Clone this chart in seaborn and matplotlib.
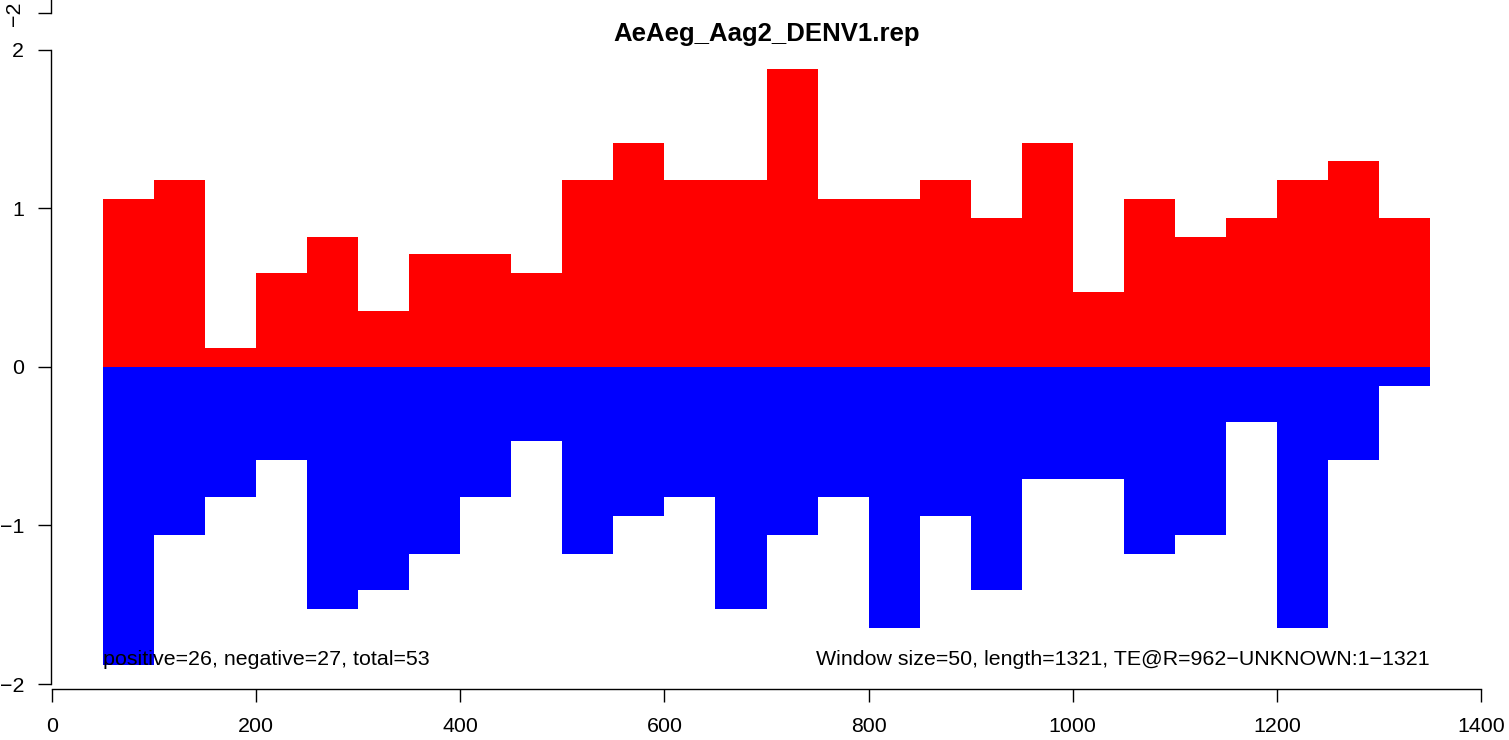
import numpy as np
import pandas as pd
import matplotlib
matplotlib.use("Agg")
import matplotlib.pyplot as plt
import seaborn as sns

# --------------------------
# Data
# --------------------------
window_start = [50, 100, 150, 200, 250, 300, 350, 400, 450, 500, 550, 600, 650,
                700, 750, 800, 850, 900, 950, 1000, 1050, 1100, 1150, 1200, 1250, 1300]
pos_vals = [1.06, 1.18, 0.12, 0.59, 0.82, 0.35, 0.71, 0.71, 0.59, 1.18, 1.41, 1.18, 1.18,
            1.88, 1.06, 1.06, 1.18, 0.94, 1.41, 0.47, 1.06, 0.82, 0.94, 1.18, 1.30, 0.94]
neg_vals = [-1.88, -1.06, -0.82, -0.59, -1.53, -1.41, -1.18, -0.82, -0.47, -1.18, -0.94, -0.82, -1.53,
            -1.06, -0.82, -1.65, -0.94, -1.41, -0.71, -0.71, -1.18, -1.06, -0.35, -1.65, -0.59, -0.12]
win_size = 50
x_ticks = [0, 200, 400, 600, 800, 1000, 1200, 1400]
y_ticks = [-2, -1, 0, 1, 2]
title = "AeAeg_Aag2_DENV1.rep"
left_note = "positive=26, negative=27, total=53"
right_note = "Window size=50, length=1321, TE@R=962\u2212UNKNOWN:1\u22121321"

df = pd.DataFrame({"start": window_start, "pos": pos_vals, "neg": neg_vals})
df["mid"] = df["start"] + win_size / 2
bin_edges = list(range(window_start[0], window_start[-1] + 2 * win_size, win_size))

# --------------------------
# Style
# --------------------------
sns.set_style("white")
plt.rcParams["font.family"] = ["Liberation Sans", "DejaVu Sans"]
plt.rcParams["text.color"] = "black"
plt.rcParams["xtick.color"] = "black"
plt.rcParams["ytick.color"] = "black"
plt.rcParams["axes.labelcolor"] = "black"
plt.rcParams["axes.titlecolor"] = "black"
fs = 15.4

W, H = 1509, 740
fig = plt.figure(figsize=(W / 100, H / 100), dpi=100)
ax = fig.add_axes([52 / W, 1 - 684 / H, (1481 - 52) / W, (684 - 49.5) / H])

sns.histplot(data=df, x="mid", weights="pos", bins=bin_edges, color="#ff0000",
             alpha=1, linewidth=0, edgecolor="none", ax=ax)
sns.histplot(data=df, x="mid", weights="neg", bins=bin_edges, color="#0000ff",
             alpha=1, linewidth=0, edgecolor="none", ax=ax)

ax.set_xlim(0, 1400)
ax.set_ylim(-2, 2)
ax.set_xlabel("")
ax.set_ylabel("")
ax.set_xticks(x_ticks)
ax.set_yticks(y_ticks)
ax.set_xticklabels([str(v) for v in x_ticks])
ax.set_yticklabels([str(v).replace("-", "\u2212") for v in y_ticks],
                   rotation=90, va="center")

for s in ["top", "right"]:
    ax.spines[s].set_visible(False)
ax.spines["left"].set_position(("outward", 1))
ax.spines["bottom"].set_position(("outward", 3.6))
ax.spines["left"].set_bounds(-2, 2)
ax.spines["bottom"].set_bounds(0, 1400)
for s in ["left", "bottom"]:
    ax.spines[s].set_color("black")
    ax.spines[s].set_linewidth(1.0)
ax.tick_params(axis="both", direction="out", length=9.5, width=1.0, color="black",
               labelcolor="black", labelsize=fs, left=True, bottom=True)
ax.tick_params(axis="x", pad=10.5)
ax.tick_params(axis="y", pad=9.5)

ax.set_title(title, fontsize=18.5, fontweight="bold", pad=6, color="black")

ax.text(window_start[0], -1.88, left_note, fontsize=fs, ha="left", va="baseline", color="black")
ax.text(window_start[-1] + win_size, -1.88, right_note, fontsize=fs, ha="right",
        va="baseline", color="black")

# piece of the axis of the panel above, cut off at the top edge
ax_top = fig.add_axes([52 / W, 1 - 13.3 / H, (1481 - 52) / W, 13.3 / H])
ax_top.set_xlim(0, 1400)
ax_top.set_ylim(-2, -2 + 13.3 / 158.6)
ax_top.set_facecolor("none")
for s in ["top", "right", "bottom"]:
    ax_top.spines[s].set_visible(False)
ax_top.spines["left"].set_position(("outward", 1))
ax_top.spines["left"].set_color("black")
ax_top.spines["left"].set_linewidth(1.0)
ax_top.set_xticks([])
ax_top.set_yticks([-2])
ax_top.set_yticklabels(["\u22122"], rotation=90, va="center")
ax_top.tick_params(axis="y", direction="out", length=9.5, width=1.0, color="black",
                   labelcolor="black", labelsize=fs, left=True, pad=9.5)

fig.savefig("out.png", dpi=100)
